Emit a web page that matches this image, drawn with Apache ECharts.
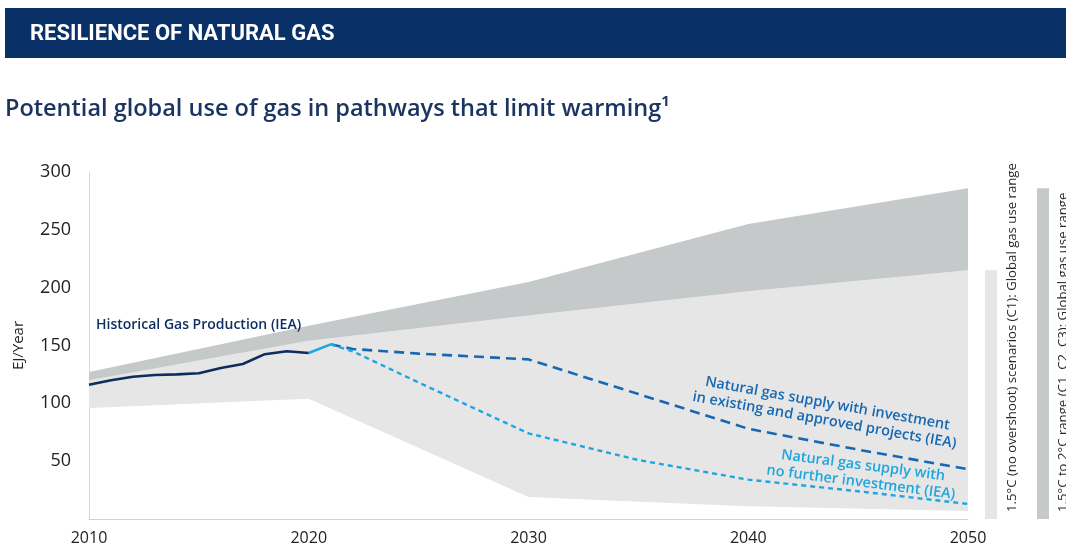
<!DOCTYPE html>
<html>
<head>
<meta charset="utf-8">
<script src="https://cdn.jsdelivr.net/npm/echarts@6/dist/echarts.min.js"></script>
<style>
  html, body { margin: 0; padding: 0; background: #ffffff; }
  #chart { width: 1066px; height: 548px; }
</style>
</head>
<body>
<div id="chart"></div>
<script>
// Scenario ranges (EJ/year) at the pathway milestone years
const bandYears = [2010, 2020, 2030, 2040, 2050];
const c1Low = [96, 104, 19, 11, 7];          // 1.5°C (C1) lower edge
const c1High = [120, 154, 176, 197, 215];    // 1.5°C (C1) upper edge
const c13High = [127, 167, 205, 255, 286];   // C1–C3 upper edge

// Historical production (IEA)
const histYears = [2010, 2011, 2012, 2013, 2014, 2015, 2016, 2017, 2018, 2019, 2020];
const histValues = [116, 120, 123, 124.5, 125, 126, 130.5, 134, 142.5, 145, 143.5];

// Latest estimate bridging history and the outlooks
const bridgeYears = [2020, 2021];
const bridgeValues = [143.5, 151];

// IEA supply outlooks
const outlookYears = [2021, 2022, 2025, 2030, 2035, 2040, 2045, 2050];
const approvedValues = [151, 147, 143, 138, 108, 78, 60, 43];
const noInvestValues = [151, 145, 118, 74, 51, 34, 24, 13];

const yTicks = [0, 50, 100, 150, 200, 250, 300];
const xTicks = [2010, 2020, 2030, 2040, 2050];

const NAVY = '#0d2c5f';
const MID_BLUE = '#1768b3';
const LIGHT_BLUE = '#1ea6e0';
const BAND_LIGHT = '#e6e6e6';
const BAND_DARK = '#c5c9c9';
const FONT = '"Open Sans", sans-serif';

function pairs(xs, ys) { return xs.map((x, i) => [x, ys[i]]); }

function bandSeries(upper, lower, fill) {
  return {
    type: 'custom',
    silent: true,
    z: 1,
    data: [0],
    renderItem: function (params, api) {
      const top = bandYears.map((y, i) => api.coord([y, upper[i]]));
      const bottom = bandYears.map((y, i) => api.coord([y, lower[i]])).reverse();
      return { type: 'polygon', shape: { points: top.concat(bottom) }, style: { fill: fill } };
    }
  };
}

const chart = echarts.init(document.getElementById('chart'), null, { renderer: 'canvas' });

const lastYear = bandYears[bandYears.length - 1];

chart.setOption({
  animation: false,
  backgroundColor: '#ffffff',
  grid: { left: 89, right: 98, top: 172, bottom: 29, outerBoundsMode: 'none', containLabel: false },
  xAxis: {
    type: 'value',
    min: xTicks[0],
    max: xTicks[xTicks.length - 1],
    interval: 10,
    z: 5,
    axisLine: { show: true, lineStyle: { color: '#cfd2d2', width: 1 } },
    axisTick: { show: false },
    splitLine: { show: false },
    axisLabel: {
      color: '#222', fontFamily: FONT, fontSize: 16, margin: 11,
      formatter: v => String(v)
    }
  },
  yAxis: {
    type: 'value',
    min: yTicks[0],
    max: yTicks[yTicks.length - 1],
    interval: 50,
    name: 'EJ/Year',
    nameLocation: 'middle',
    nameGap: 63,
    nameTextStyle: { color: '#222', fontFamily: FONT, fontSize: 15 },
    axisLine: { show: true, lineStyle: { color: '#d6d8d8', width: 1 } },
    axisTick: { show: false },
    splitLine: { show: false },
    axisLabel: {
      color: '#222', fontFamily: FONT, fontSize: 18, margin: 18,
      formatter: v => (v === 0 ? '' : String(v))
    }
  },
  series: [
    bandSeries(c1High, c1Low, BAND_LIGHT),
    bandSeries(c13High, c1High, BAND_DARK),
    {
      // range keys beside the plot, scaled to the 2050 ranges
      type: 'custom',
      silent: true,
      clip: false,
      z: 1,
      data: [[lastYear, c1High[c1High.length - 1], 17],
             [lastYear, c13High[c13High.length - 1], 69]],
      renderItem: function (params, api) {
        const top = api.coord([api.value(0), api.value(1)]);
        const base = api.coord([api.value(0), 0]);
        const fill = params.dataIndex === 0 ? BAND_LIGHT : BAND_DARK;
        return {
          type: 'rect',
          shape: { x: base[0] + api.value(2), y: top[1], width: 12, height: base[1] - top[1] },
          style: { fill: fill }
        };
      }
    },
    {
      name: 'Historical Gas Production (IEA)',
      type: 'line',
      data: pairs(histYears, histValues),
      symbol: 'none',
      z: 4,
      lineStyle: { color: NAVY, width: 2.6 }
    },
    {
      type: 'line',
      data: pairs(bridgeYears, bridgeValues),
      symbol: 'none',
      z: 4,
      lineStyle: { color: LIGHT_BLUE, width: 2.6 }
    },
    {
      name: 'Natural gas supply with investment in existing and approved projects (IEA)',
      type: 'line',
      data: pairs(outlookYears, approvedValues),
      symbol: 'none',
      z: 3,
      lineStyle: { color: MID_BLUE, width: 2.6, type: [10, 6] }
    },
    {
      name: 'Natural gas supply with no further investment (IEA)',
      type: 'line',
      data: pairs(outlookYears, noInvestValues),
      symbol: 'none',
      z: 3,
      lineStyle: { color: LIGHT_BLUE, width: 2.4, type: [5, 4] }
    }
  ],
  graphic: [
    {
      type: 'rect',
      shape: { x: 5, y: 8, width: 1061, height: 50 },
      style: { fill: '#0a3068' },
      silent: true
    },
    {
      type: 'text',
      x: 30, y: 34,
      style: {
        text: 'RESILIENCE OF NATURAL GAS',
        fill: '#ffffff',
        font: 'bold 22px Roboto, sans-serif',
        verticalAlign: 'middle'
      }
    },
    {
      type: 'text',
      x: 5, y: 109,
      style: {
        text: 'Potential global use of gas in pathways that limit warming¹',
        fill: '#1b3563',
        font: '600 23.5px ' + FONT,
        verticalAlign: 'middle'
      }
    },
    {
      type: 'text',
      x: 96, y: 325,
      z: 10,
      style: {
        text: 'Historical Gas Production (IEA)',
        fill: NAVY,
        font: '600 14px ' + FONT,
        verticalAlign: 'middle'
      }
    },
    {
      type: 'text',
      x: 826, y: 412,
      rotation: -0.178,
      z: 10,
      style: {
        text: 'Natural gas supply with investment\nin existing and approved projects (IEA)',
        fill: MID_BLUE,
        font: '600 14.5px ' + FONT,
        lineHeight: 17,
        align: 'center',
        verticalAlign: 'middle'
      }
    },
    {
      type: 'text',
      x: 862, y: 474,
      rotation: -0.13,
      z: 10,
      style: {
        text: 'Natural gas supply with\nno further investment (IEA)',
        fill: LIGHT_BLUE,
        font: '600 14.5px ' + FONT,
        lineHeight: 17,
        align: 'center',
        verticalAlign: 'middle'
      }
    },
    {
      type: 'text',
      x: 1012, y: 512,
      rotation: Math.PI / 2,
      style: {
        text: '1.5°C (no overshoot) scenarios (C1): Global gas use range',
        fill: '#2a2a2a',
        font: '13.2px ' + FONT,
        align: 'left',
        verticalAlign: 'middle'
      }
    },
    {
      type: 'text',
      x: 1063, y: 512,
      rotation: Math.PI / 2,
      style: {
        text: '1.5°C to 2°C range (C1, C2, C3): Global gas use range',
        fill: '#2a2a2a',
        font: '13.2px ' + FONT,
        align: 'left',
        verticalAlign: 'middle'
      }
    }
  ]
});
</script>
</body>
</html>
